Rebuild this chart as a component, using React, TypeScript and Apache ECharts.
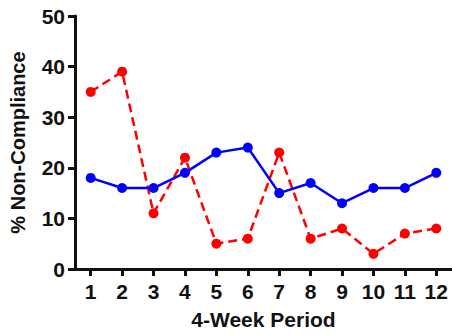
import React, { useEffect, useRef } from "react";
import * as echarts from "echarts";

const periods = ["1", "2", "3", "4", "5", "6", "7", "8", "9", "10", "11", "12"];
const blueSeries = [18, 16, 16, 19, 23, 24, 15, 17, 13, 16, 16, 19];
const redSeries = [35, 39, 11, 22, 5, 6, 23, 6, 8, 3, 7, 8];
const yTicks = { min: 0, max: 50, interval: 10 };

export default function App() {
  const ref = useRef<HTMLDivElement>(null);
  useEffect(() => {
    if (!ref.current) return;
    const chart = echarts.init(ref.current, null, { renderer: "svg" });
    const font = "'Liberation Sans', Arial, sans-serif";
    chart.setOption({
      animation: false,
      backgroundColor: "#ffffff",
      grid: { left: 70, right: 0, top: 16, bottom: 62, containLabel: false },
      xAxis: {
        type: "category",
        data: periods,
        boundaryGap: true,
        name: "4-Week Period",
        nameLocation: "middle",
        nameGap: 40,
        nameTextStyle: { fontFamily: font, fontWeight: "bold", fontSize: 21, color: "#111" },
        axisLine: { show: true, lineStyle: { color: "#111", width: 3 } },
        axisTick: { show: true, alignWithLabel: true, length: 7, lineStyle: { color: "#111", width: 3 } },
        axisLabel: { margin: 12, fontFamily: font, fontWeight: "bold", fontSize: 21, color: "#111" },
        splitLine: { show: false },
      },
      yAxis: {
        type: "value",
        min: yTicks.min,
        max: yTicks.max,
        interval: yTicks.interval,
        name: "% Non-Compliance",
        nameLocation: "middle",
        nameGap: 47,
        nameRotate: 90,
        nameTextStyle: { fontFamily: font, fontWeight: "bold", fontSize: 20, color: "#111" },
        axisLine: { show: true, lineStyle: { color: "#111", width: 3 } },
        axisTick: { show: true, length: 7, lineStyle: { color: "#111", width: 3 } },
        axisLabel: { margin: 10, fontFamily: font, fontWeight: "bold", fontSize: 21, color: "#111" },
        splitLine: { show: false },
      },
      series: [
        {
          type: "line",
          data: blueSeries,
          symbol: "circle",
          symbolSize: 10,
          lineStyle: { color: "#0000ff", width: 2.5 },
          itemStyle: { color: "#0000ff" },
          z: 3,
        },
        {
          type: "line",
          data: redSeries,
          symbol: "circle",
          symbolSize: 10,
          lineStyle: { color: "#ff0000", width: 2.5, type: [9, 5] },
          itemStyle: { color: "#ff0000" },
          z: 2,
        },
      ],
    });
    return () => chart.dispose();
  }, []);
  return <div ref={ref} style={{ width: 452, height: 335, position: "absolute", left: 0, top: 0 }} />;
}
